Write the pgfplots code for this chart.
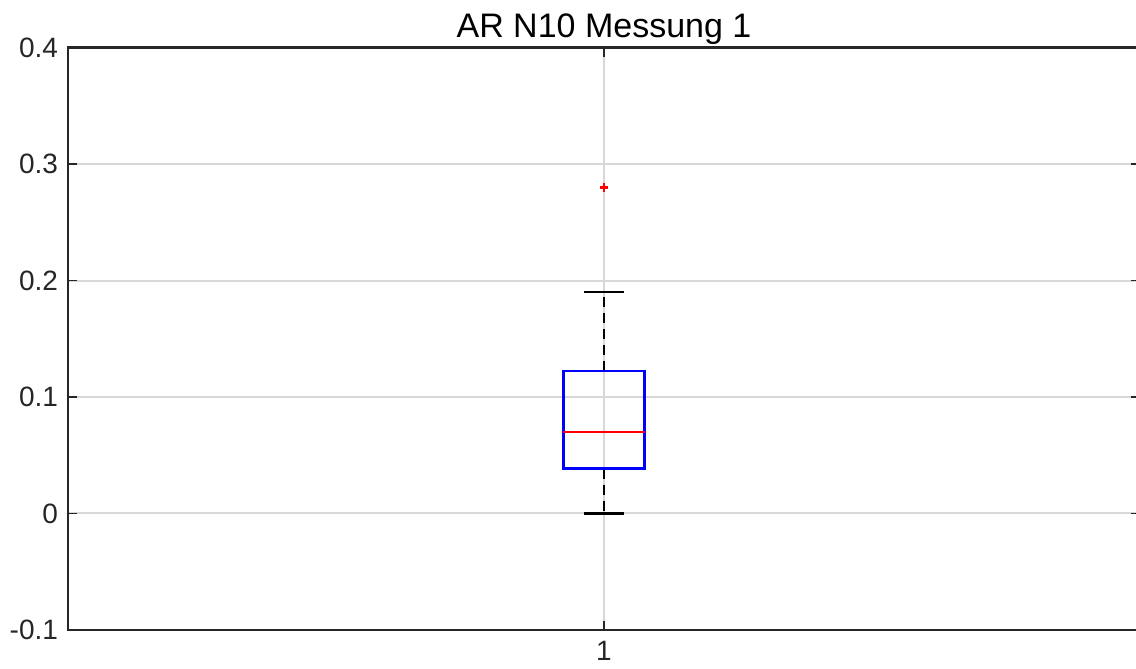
\documentclass[border=0pt]{standalone}
\usepackage{pgfplots}
\pgfplotsset{compat=1.18}
\usepackage{fontspec}
\setmainfont{Liberation Sans}
\definecolor{axcol}{HTML}{262626}
\definecolor{gridcol}{HTML}{D8D8D8}
\definecolor{mblue}{HTML}{0000FF}
\definecolor{mred}{HTML}{FF0000}
\begin{document}
\begin{tikzpicture}
\begin{axis}[
  scale only axis,
  width=536pt, height=291.25pt,
  xmin=0.5, xmax=1.5, ymin=-0.1, ymax=0.4,
  xtick={1}, xticklabels={1},
  ytick={-0.1,0,0.1,0.2,0.3,0.4},
  yticklabels={-0.1,0,0.1,0.2,0.3,0.4},
  tick pos=both, tick align=inside,
  major tick length=4.5pt,
  every tick/.style={axcol, line width=0.9pt},
  axis line style={axcol, line width=1.2pt},
  grid=major,
  major grid style={gridcol, line width=1pt},
  tick label style={font=\fontsize{14}{16}\selectfont, text=axcol},
  yticklabel style={xshift=-1.5pt},
  xticklabel style={yshift=-2pt},
  title={AR N10 Messung 1},
  title style={font=\fontsize{17}{20}\selectfont, text=black, at={(0.5,1)}, anchor=base, yshift=-0.75pt},
  clip=false,
]
% whiskers
\addplot[black, line width=1.2pt, dash pattern=on 5pt off 3pt] coordinates {(1,0.1225) (1,0.19)};
\addplot[black, line width=1.2pt, dash pattern=on 5pt off 3pt] coordinates {(1,0.0385) (1,0)};
% caps
\addplot[black, line width=1.2pt] coordinates {(0.9817,0.19) (1.0183,0.19)};
\addplot[black, line width=1.2pt] coordinates {(0.9817,0) (1.0183,0)};
% box
\addplot[mblue, line width=1.2pt] coordinates {(0.9621,0.0385) (1.0379,0.0385) (1.0379,0.1225) (0.9621,0.1225)} -- cycle;
% median
\addplot[mred, line width=1.2pt] coordinates {(0.9621,0.07) (1.0379,0.07)};
% outlier
\addplot[mred, only marks, mark=+, mark size=2.2pt, mark options={line width=1.3pt}] coordinates {(1,0.28)};
\coordinate (bl) at (rel axis cs:0,0);
\end{axis}
\pgfresetboundingbox
\path[use as bounding box] (bl) ++(-34pt,-19.5pt) rectangle ++(568pt,334.5pt);
\end{tikzpicture}
\end{document}
